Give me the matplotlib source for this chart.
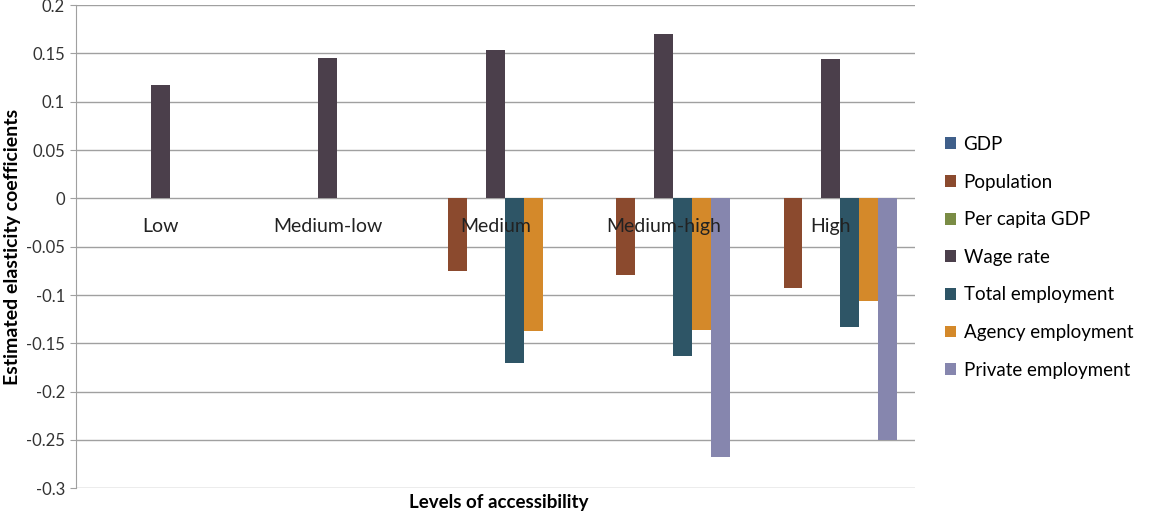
import numpy as np
import matplotlib
matplotlib.use('Agg')
import matplotlib.pyplot as plt

plt.rcParams['font.family'] = ['Lato', 'DejaVu Sans']

#accessibility levels and estimated elasticity per variable
levels = ['Low', 'Medium-low', 'Medium', 'Medium-high', 'High']
series = ['GDP', 'Population', 'Per capita GDP', 'Wage rate',
          'Total employment', 'Agency employment', 'Private employment']
gdp = [0, 0, 0, 0, 0]
population = [0, 0, -0.075, -0.079, -0.093]
percapGdp = [0, 0, 0, 0, 0]
wageRate = [0.117, 0.145, 0.154, 0.170, 0.144]
totalEmp = [0, 0, -0.170, -0.163, -0.133]
agencyEmp = [0, 0, -0.137, -0.136, -0.106]
privateEmp = [0, 0, 0, -0.268, -0.250]
yticks = [0.2, 0.15, 0.1, 0.05, 0, -0.05, -0.1, -0.15, -0.2, -0.25, -0.3]

colors = ['#3F5F8A', '#8B4A2E', '#7A8C45', '#4B3F4B',
          '#2E5566', '#D4892A', '#8686AE']
allVals = [gdp, population, percapGdp, wageRate, totalEmp, agencyEmp, privateEmp]

fig = plt.figure(figsize=(11.55, 5.14), dpi=100)
ax = fig.add_axes([0.066, 0.05, 0.726, 0.94])

x = np.arange(len(levels))
width = 0.113
for k, (name, vals) in enumerate(zip(series, allVals)):
    offs = (k - 3) * width
    ax.bar(x + offs, vals, width, color=colors[k], label=name, zorder=2)

ax.set_xlim(-0.5, len(levels) - 0.5)
ax.set_ylim(-0.3, 0.2)
ax.set_yticks(yticks)
ax.set_yticklabels([('%g' % t) for t in yticks], fontsize=12, color='#333333')
ax.yaxis.grid(True, color='#a0a0a0', lw=1, zorder=0)
ax.set_xticks([])
for s in ['top', 'right', 'bottom']:
    ax.spines[s].set_visible(False)
ax.spines['left'].set_color('#a0a0a0')
ax.tick_params(axis='y', length=4, color='#a0a0a0', pad=4)

#category labels sit just under the zero line, on top of the bars
for i, lab in enumerate(levels):
    ax.text(x[i], -0.029, lab, ha='center', va='center', fontsize=14,
            color='#222222', zorder=5)

ax.set_ylabel('Estimated elasticity coefficients', fontsize=14,
              fontweight='bold', labelpad=4)
fig.text(0.432, 0.023, 'Levels of accessibility', ha='center', va='center',
         fontsize=13.5, fontweight='bold')

leg = ax.legend(loc='center left', bbox_to_anchor=(1.0, 0.478), frameon=False,
                fontsize=13.5, handlelength=0.6, handleheight=0.6,
                handletextpad=0.4, labelspacing=1.1, borderaxespad=1.2)

plt.savefig('out.png', dpi=100)
